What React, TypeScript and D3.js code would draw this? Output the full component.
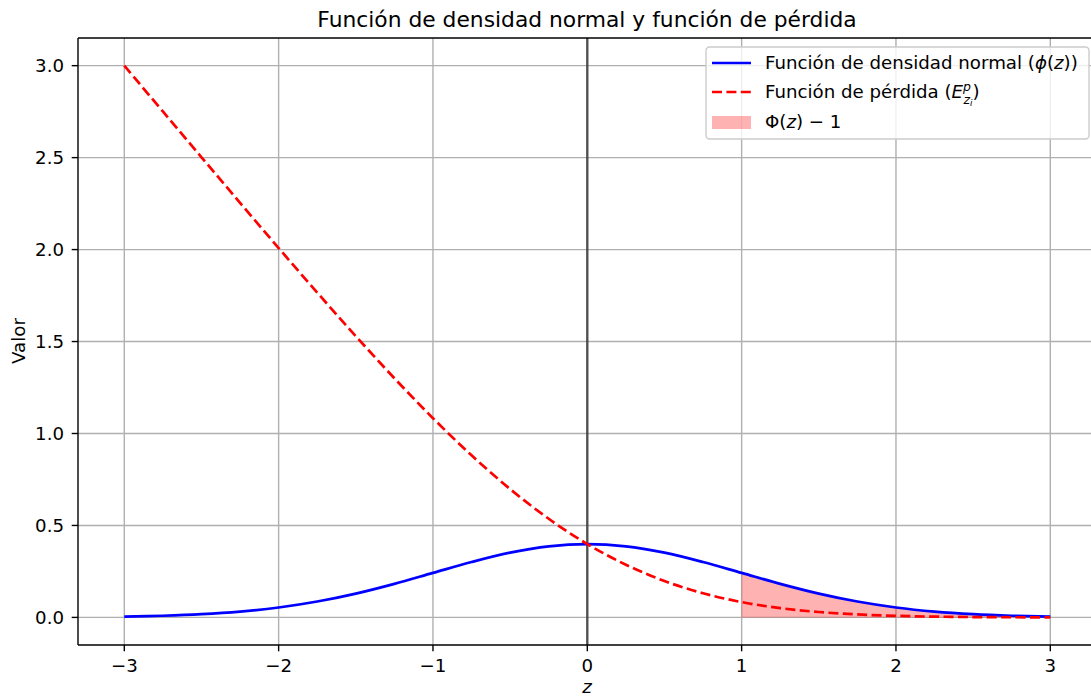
import React from "react";
import * as d3 from "d3";

// z grid and the two curves sampled on it
const zValues = [
  -3, -2.75, -2.5, -2.25, -2, -1.75, -1.5, -1.25, -1, -0.75, -0.5, -0.25, 0,
  0.25, 0.5, 0.75, 1, 1.25, 1.5, 1.75, 2, 2.25, 2.5, 2.75, 3,
];
const densityValues = [
  0.0044, 0.0091, 0.0175, 0.0317, 0.054, 0.0863, 0.1295, 0.1826, 0.242, 0.3011,
  0.3521, 0.3867, 0.3989, 0.3867, 0.3521, 0.3011, 0.242, 0.1826, 0.1295, 0.0863,
  0.054, 0.0317, 0.0175, 0.0091, 0.0044,
];
const lossValues = [
  3.0004, 2.7509, 2.502, 2.2542, 2.0085, 1.7662, 1.5293, 1.3006, 1.0833, 0.8812,
  0.6978, 0.5364, 0.3989, 0.2864, 0.1978, 0.1312, 0.0833, 0.0506, 0.0293, 0.0162,
  0.0085, 0.0042, 0.002, 0.0009, 0.0004,
];
const xTicks = [-3, -2, -1, 0, 1, 2, 3];
const yTicks = [0, 0.5, 1, 1.5, 2, 2.5, 3];
const shadeFrom = 1;

const W = 1091;
const H = 697;
const left = 78;
const top = 38;
const bottom = 645;
const xScale = d3.scaleLinear().domain([-3.3, 3.3]).range([left, left + 1018.6]);
const yScale = d3.scaleLinear().domain([-0.15002, 3.15042]).range([bottom, top]);

const font = "'DejaVu Sans', sans-serif";
const fs = 18.2;
const lw = 2.7;
const dash = "10,4.4";
const fmtX = (v: number) => (v < 0 ? "\u2212" + Math.abs(v) : String(v));

export default function App() {
  const pts = zValues.map((z, i) => ({ z, d: densityValues[i], l: lossValues[i] }));
  const line = d3
    .line<{ z: number; v: number }>()
    .x((p) => xScale(p.z))
    .y((p) => yScale(p.v))
    .curve(d3.curveCatmullRom.alpha(0.5));
  const densityPath = line(pts.map((p) => ({ z: p.z, v: p.d })))!;
  const lossPath = line(pts.map((p) => ({ z: p.z, v: p.l })))!;
  const area = d3
    .area<{ z: number; d: number }>()
    .x((p) => xScale(p.z))
    .y0(yScale(0))
    .y1((p) => yScale(p.d))
    .curve(d3.curveCatmullRom.alpha(0.5));
  const shadePath = area(pts.filter((p) => p.z >= shadeFrom))!;

  const right = W + 10;
  return (
    <svg
      width={W}
      height={H}
      style={{ position: "absolute", left: 0, top: 0, background: "#fff" }}
      fontFamily={font}
    >
      <defs>
        <clipPath id="plot">
          <rect x={left} y={top} width={right - left} height={bottom - top} />
        </clipPath>
      </defs>
      {/* grid */}
      {xTicks.map((t) => (
        <line key={"gx" + t} x1={xScale(t)} x2={xScale(t)} y1={top} y2={bottom} stroke="#b0b0b0" strokeWidth={1.4} />
      ))}
      {yTicks.map((t) => (
        <line key={"gy" + t} x1={left} x2={right} y1={yScale(t)} y2={yScale(t)} stroke="#b0b0b0" strokeWidth={1.4} />
      ))}
      <g clipPath="url(#plot)">
        <path d={shadePath} fill="#ff0000" fillOpacity={0.3} stroke="none" />
        <line x1={xScale(0)} x2={xScale(0)} y1={top} y2={bottom} stroke="#000" strokeOpacity={0.55} strokeWidth={2.6} />
        <path d={densityPath} fill="none" stroke="#0000ff" strokeWidth={lw} />
        <path d={lossPath} fill="none" stroke="#ff0000" strokeWidth={lw} strokeDasharray={dash} />
      </g>
      {/* frame */}
      <line x1={left} x2={left} y1={top} y2={bottom} stroke="#000" strokeWidth={1.4} />
      <line x1={left} x2={right} y1={top} y2={top} stroke="#000" strokeWidth={1.4} />
      <line x1={left} x2={right} y1={bottom} y2={bottom} stroke="#000" strokeWidth={1.4} />
      {/* x axis */}
      {xTicks.map((t) => (
        <g key={"tx" + t}>
          <line x1={xScale(t)} x2={xScale(t)} y1={bottom} y2={bottom + 6.3} stroke="#000" strokeWidth={1.4} />
          <text x={xScale(t)} y={672} fontSize={fs} textAnchor="middle">
            {fmtX(t)}
          </text>
        </g>
      ))}
      {/* y axis */}
      {yTicks.map((t) => (
        <g key={"ty" + t}>
          <line x1={left - 6.3} x2={left} y1={yScale(t)} y2={yScale(t)} stroke="#000" strokeWidth={1.4} />
          <text x={left - 14} y={yScale(t) + 6.6} fontSize={fs} textAnchor="end">
            {t.toFixed(1)}
          </text>
        </g>
      ))}
      <text x={587} y={693} fontSize={fs} fontStyle="italic" textAnchor="middle">z</text>
      <text transform="translate(25,341) rotate(-90)" fontSize={fs} textAnchor="middle">Valor</text>
      <text x={587} y={27} fontSize={21.8} textAnchor="middle">
        Función de densidad normal y función de pérdida
      </text>
      {/* legend */}
      <g>
        <rect x={706} y={47} width={383} height={92} rx={3.5} fill="#fff" fillOpacity={0.8} stroke="#cccccc" strokeWidth={1.4} />
        <line x1={712} x2={751} y1={63} y2={63} stroke="#0000ff" strokeWidth={lw} />
        <text x={765} y={69} fontSize={fs}>
          Función de densidad normal (<tspan fontStyle="italic">ϕ</tspan>(<tspan fontStyle="italic">z</tspan>))
        </text>
        <line x1={712} x2={751} y1={92} y2={92} stroke="#ff0000" strokeWidth={lw} strokeDasharray={dash} />
        <text x={765} y={98} fontSize={fs}>
          Función de pérdida (<tspan fontStyle="italic">E</tspan>
          <tspan fontStyle="italic" fontSize={12.5} dy={-7.5}>p</tspan>
          <tspan fontStyle="italic" fontSize={12.5} dx={-7.5} dy={13}>z</tspan>
          <tspan fontStyle="italic" fontSize={8.8} dy={2}>i</tspan>
          <tspan dy={-7.5}>)</tspan>
        </text>
        <rect x={712} y={116} width={39} height={13} fill="#ff0000" fillOpacity={0.3} />
        <text x={765} y={128} fontSize={fs}>
          Φ(<tspan fontStyle="italic">z</tspan>) − 1
        </text>
      </g>
    </svg>
  );
}
